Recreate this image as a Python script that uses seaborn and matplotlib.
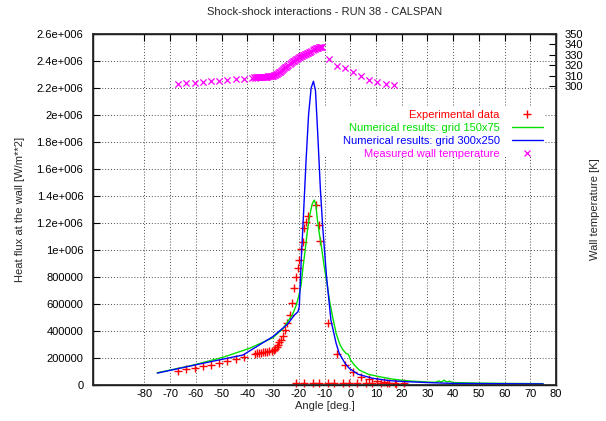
import matplotlib
matplotlib.use('Agg')
import matplotlib.pyplot as plt
import seaborn as sns
import pandas as pd
from matplotlib.lines import Line2D
from matplotlib.patches import Rectangle

# ---------------- data ----------------
green_angle = [-75, -62.4, -49.5, -39.1, -30.1, -26.0, -24.3, -22.5, -21.0, -20.0, -19.1, -18.3,
               -17.5, -16.6, -15.6, -14.8, -14.0, -13.4, -12.8, -12.0, -11.0, -10.1, -9.0, -8.1,
               -7.0, -5.5, -4.0, -3.0, -1.7, -0.7, 0.0, 1.5, 3.5, 7.0, 11.2, 16.0, 21.5, 30, 33,
               34.5, 35.5, 36.5, 37.5, 38.5, 40, 50, 60, 75]
green_q = [91000, 141000, 205000, 272000, 350000, 420000, 469000, 520000, 590000, 660000, 740000, 880000,
           1000000, 1150000, 1270000, 1340000, 1370000, 1340000, 1230000, 1120000, 1000000, 876000, 750000, 630000,
           520000, 383000, 300000, 265000, 235000, 227000, 190000, 150000, 111000, 80000, 62000, 45000, 32000, 22000, 20000,
           30000, 22000, 36000, 22000, 28000, 18000, 14000, 12000, 10000]

blue_angle = [-75, -58.5, -41.7, -30.1, -24.3, -21.7, -20.3, -19.8, -19.1, -18.2, -17.2, -16.2,
              -15.2, -14.3, -13.5, -12.6, -11.6, -10.7, -9.2, -7.5, -5.5, -4.3, -2.0, -0.4,
              3.0, 8.6, 15.0, 21.5, 30, 40, 55, 75]
blue_q = [88000, 156000, 222000, 358000, 452000, 518000, 543000, 580000, 900000, 1250000, 1650000, 2000000,
          2200000, 2250000, 2180000, 1850000, 1450000, 1170000, 800000, 480000, 310000, 235000, 160000, 124000,
          80000, 50000, 33000, 25000, 18000, 12000, 10000, 8000]

exp_angle = [-66.9, -63.7, -60.5, -57.4, -54.2, -51.0, -47.9, -44.6, -41.4,
             -37.0, -36.2, -35.4, -34.6, -33.8, -33.0, -32.2, -31.4, -30.6, -29.8, -29.2, -28.6,
             -28.2, -27.5, -26.9, -26.2, -25.2, -24.4, -23.6, -22.7, -22.0, -21.0, -20.4, -20.0,
             -19.0, -18.4, -17.8, -17.2, -16.3, -13.3, -12.3, -11.8, -8.6, -5.2, -1.9, 0.9,
             4.1, 7.4, 10.6, 13.2, 15.1, 17.7,
             -21.0, -17.8, -14.6, -12.0, -8.8, -6.2, -3.0, -0.4, 2.8, 6.1, 8.6, 11.9, 14.4, 17.6, 20.9]
exp_q = [106000, 116000, 126000, 138000, 150000, 165000, 178000, 191000, 205000,
         232000, 236000, 238000, 240000, 242000, 244000, 247000, 250000, 254000, 258000, 265000, 280000,
         296000, 315000, 333000, 360000, 407000, 460000, 518000, 605000, 716000, 802000, 870000, 926000,
         1010000, 1060000, 1160000, 1210000, 1250000, 1333000, 1185000, 1070000, 457000, 230000, 148000, 99000,
         62000, 44000, 32000, 25000, 12000, 7000,
         17000, 17000, 17000, 17000, 17000, 17000, 17000, 17000, 17000, 17000, 17000, 17000, 17000, 17000, 17000]

temp_angle = [-66.9, -63.7, -60.5, -57.4, -54.2, -51.0, -47.9, -44.6, -41.4,
              -38.0, -37.6, -37.2, -36.8, -36.4, -36.0, -35.6, -35.2, -34.8, -34.4, -34.0, -33.6,
              -33.2, -32.8, -32.4, -32.0, -31.6, -31.2, -30.8, -30.4, -30.0, -29.6,
              -29.2, -28.8, -28.4, -28.0, -27.6, -27.2, -26.8, -26.4, -26.0, -25.6, -25.2, -24.8,
              -24.4, -24.0, -23.6, -23.2, -22.8, -22.4, -22.0, -21.6, -21.2, -20.8, -20.4, -20.0,
              -19.6, -19.2, -18.8, -18.4, -18.0, -17.6, -17.2, -16.8, -16.4, -16.0, -15.6, -15.2,
              -14.6, -14.2, -13.8, -13.4, -13.0, -12.6, -12.2, -11.8, -11.4, -11.0,
              -8.4, -5.2, -1.9, 1.2, 4.3, 7.4, 10.6, 13.8, 17.1]
temp_k = [301.9, 302.5, 303.1, 303.8, 304.4, 305.0, 305.7, 306.4, 307.0,
          308.0, 308.3, 308.1, 308.4, 308.2, 308.5, 308.3, 308.6, 308.4, 308.7, 308.5, 308.8,
          308.7, 309.0, 308.9, 309.2, 309.1, 309.4, 309.4, 309.7, 309.9, 310.3,
          310.8, 311.2, 311.9, 312.4, 313.2, 313.8, 314.6, 315.3, 316.1, 316.9, 317.8, 318.6,
          319.5, 320.3, 321.2, 322.0, 322.8, 323.6, 324.3, 325.0, 325.7, 326.3, 326.9, 327.5,
          328.1, 328.6, 329.1, 329.6, 330.1, 330.6, 331.0, 331.5, 332.0, 332.5, 333.0, 333.5,
          335.0, 335.6, 336.0, 336.3, 336.6, 336.8, 337.0, 337.2, 337.3, 337.5,
          325.6, 319.5, 317.5, 313.7, 309.6, 305.7, 303.5, 302.1, 300.9]

x_ticks = list(range(-80, 81, 10))
y_ticks = list(range(0, 2600001, 200000))
y_tick_labels = ['0', '200000', '400000', '600000', '800000', '1e+006', '1.2e+006', '1.4e+006',
                 '1.6e+006', '1.8e+006', '2e+006', '2.2e+006', '2.4e+006', '2.6e+006']
y2_ticks = [300, 310, 320, 330, 340, 350]

labels = ['Experimental data', 'Numerical results: grid 150x75',
          'Numerical results: grid 300x250', 'Measured wall temperature']

# ---------------- style ----------------
sns.set_theme(style='white')
plt.rcParams['font.family'] = ['Liberation Sans', 'DejaVu Sans']
plt.rcParams['font.size'] = 8

RED, GREEN, BLUE, MAG = '#ff0000', '#00e000', '#0000ff', '#ff00ff'

fig = plt.figure(figsize=(6.06, 4.21), dpi=100)
ax = fig.add_axes([93 / 606, 1 - 385 / 421, (556 - 93) / 606, (385 - 34) / 421])

df_g = pd.DataFrame({'a': green_angle, 'q': green_q})
df_b = pd.DataFrame({'a': blue_angle, 'q': blue_q})
df_e = pd.DataFrame({'a': exp_angle, 'q': exp_q})
df_t = pd.DataFrame({'a': temp_angle, 't': temp_k})

sns.scatterplot(data=df_e, x='a', y='q', marker='+', s=26, color=RED, linewidth=1.0, ax=ax,
                zorder=3, clip_on=False)
sns.lineplot(data=df_g, x='a', y='q', sort=False, estimator=None, color=GREEN, lw=1.0, ax=ax, zorder=4)
sns.lineplot(data=df_b, x='a', y='q', sort=False, estimator=None, color=BLUE, lw=1.0, ax=ax, zorder=5)

ax.set_xlim(-100, 80)
ax.set_ylim(0, 2600000)
ax.set_xticks(x_ticks)
ax.set_xticklabels([str(v) for v in x_ticks])
ax.set_yticks(y_ticks)
ax.set_yticklabels(y_tick_labels)
ax.grid(True, color='0.3', linestyle=(0, (1, 2)), linewidth=0.7)
ax.set_axisbelow(True)
# key area blanks the grid
ax.add_patch(Rectangle((-28.7, 1690000), 103.9, 380000, facecolor='white', edgecolor='none', zorder=1))
ax.tick_params(axis='both', direction='in', length=5, width=0.8, colors='black', labelsize=8)
ax.tick_params(axis='x', top=True, pad=3)
ax.tick_params(axis='y', pad=7)
for sp in ax.spines.values():
    sp.set_color('black')
    sp.set_linewidth(1.0)
ax.set_xlabel('Angle [deg.]', fontsize=8, labelpad=1)
ax.set_ylabel('Heat flux at the wall [W/m**2]', fontsize=8, labelpad=8)
ax.set_title('Shock-shock interactions - RUN 38 - CALSPAN', fontsize=8, pad=14)

ax2 = ax.twinx()
sns.scatterplot(data=df_t, x='a', y='t', marker='x', s=20, color=MAG, linewidth=0.9, ax=ax2, zorder=3)
ax2.set_ylim(12, 350)
ax2.set_yticks(y2_ticks)
ax2.set_yticklabels([str(v) for v in y2_ticks])
ax2.tick_params(axis='y', direction='in', length=5, width=0.8, colors='black', labelsize=8, pad=6)
ax2.set_ylabel('Wall temperature [K]', fontsize=8, rotation=90, labelpad=5)
ax2.set_xlim(-100, 80)
ax2.set_xlabel('')

handles = [Line2D([], [], color=RED, marker='+', linestyle='none', markersize=5.5, mew=1),
           Line2D([], [], color=GREEN, lw=1.0),
           Line2D([], [], color=BLUE, lw=1.0),
           Line2D([], [], color=MAG, marker='x', linestyle='none', markersize=4.5, mew=0.9)]
leg = ax2.legend(handles, labels, loc='upper right', bbox_to_anchor=(0.972, 0.783),
                 frameon=False, markerfirst=False, fontsize=8, handlelength=2.8,
                 handletextpad=1.1, labelspacing=0.25, borderaxespad=0, borderpad=0)
for txt, c in zip(leg.get_texts(), [RED, GREEN, BLUE, MAG]):
    txt.set_color(c)
    txt.set_ha('right')

fig.savefig('out.png', dpi=100)
